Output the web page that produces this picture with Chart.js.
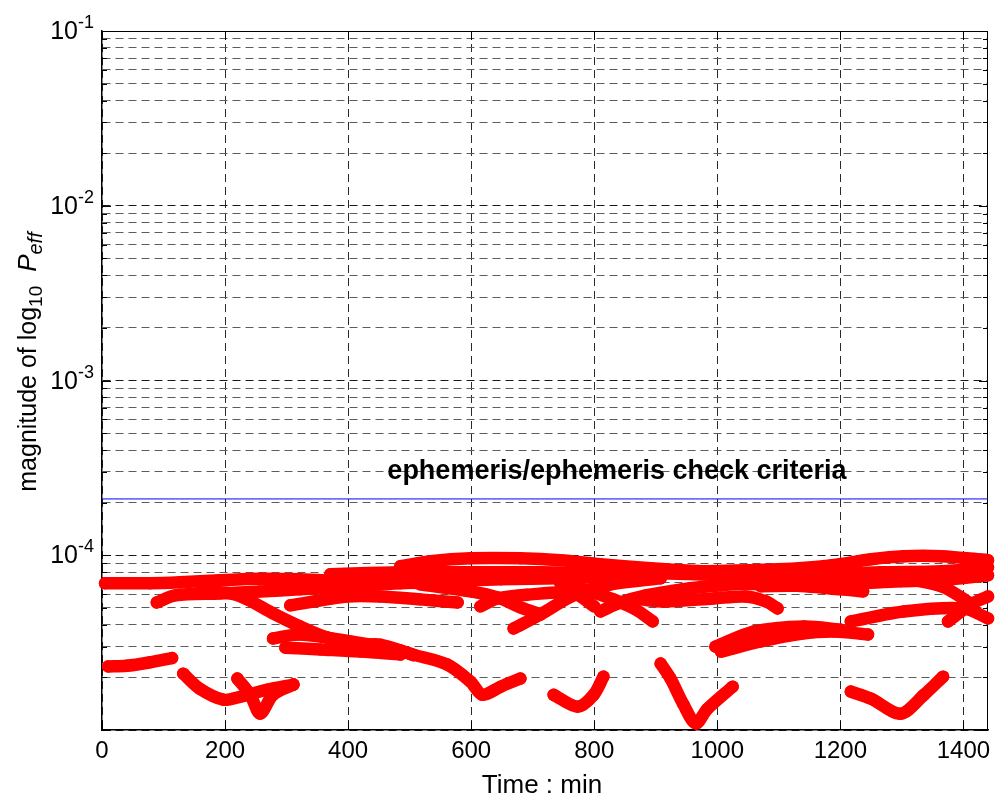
<!DOCTYPE html>
<html>
<head>
<meta charset="utf-8">
<script src="https://cdn.jsdelivr.net/npm/chart.js@4.4.1/dist/chart.umd.min.js"></script>
<style>
  html, body { margin: 0; padding: 0; background: #fff; }
  #wrap { width: 995px; height: 801px; }
</style>
</head>
<body>
<div id="wrap"><canvas id="chart" width="995" height="801"></canvas></div>
<script>
// ===============================
// DATA
// ===============================
// x ticks (minutes) and log-axis tick layout
const xTicks = [0, 200, 400, 600, 800, 1000, 1200, 1400];
const yDecadeExponents = [-5, -4, -3, -2, -1];
const yMantissas = [1, 2, 3, 4, 5, 6, 7, 8, 9];
const yLabelExponents = [-4, -3, -2, -1];

// check criterion (horizontal blue line)
const criteriaTime = [0, 1440];
const criteriaLevel = [2.1e-4, 2.1e-4];
const criteriaText = "ephemeris/ephemeris check criteria";
const criteriaTextAt = { t: 837, v: 2.73e-4 };

// satellite passes: [time (min), Peff in units of 1e-5]
const pass01 = [[5,6.91],[78,6.91],[127,7.00],[192,7.19],[257,7.33],[322,7.28],[404,7.09],[485,7.00],[550,6.82]];
const pass02 = [[89,5.37],[119,5.89],[192,6.05],[257,6.21],[322,6.38],[404,6.64],[485,6.91],[566,7.09],[648,7.28],[745,7.38],[810,7.48]];
const pass03 = [[159,6.21],[208,6.05],[236,5.59],[278,4.65],[322,3.91],[366,3.38],[420,3.08],[452,3.08],[506,2.70],[561,2.37],[599,1.89],[618,1.59],[648,1.77],[680,1.97]];
const pass04 = [[278,3.34],[322,3.52],[404,3.21],[485,2.85],[506,2.68]];
const pass05 = [[298,2.96],[355,2.89],[420,2.81],[485,2.70]];
const pass06 = [[10,2.31],[40,2.33],[78,2.44],[114,2.58]];
const pass07 = [[132,2.10],[159,1.72],[197,1.49],[225,1.55],[268,1.70],[311,1.82]];
const pass08 = [[220,1.97],[241,1.59],[257,1.24],[278,1.59],[311,1.82]];
const pass09 = [[734,1.59],[773,1.36],[799,1.59],[815,2.02]];
const pass10 = [[908,2.40],[924,1.97],[945,1.40],[965,1.09],[984,1.32],[1025,1.77]];
const pass11 = [[1217,1.66],[1250,1.51],[1298,1.24],[1336,1.59],[1367,2.02]];
const pass12 = [[997,3.00],[1059,3.66],[1141,3.91],[1201,3.75]];
const pass13 = [[1006,2.81],[1071,3.21],[1136,3.55],[1189,3.66],[1245,3.52]];
const pass14 = [[1217,4.18],[1303,4.77],[1401,4.96],[1440,4.35]];
const pass15 = [[1375,4.18],[1412,5.23],[1440,5.81]];
const pass16 = [[1266,7.78],[1364,6.64],[1412,5.30]];
const pass17 = [[306,5.17],[399,5.81],[452,5.81],[517,5.59],[578,5.37]];
const pass18 = [[615,5.10],[643,5.66],[691,5.95],[766,6.05],[800,5.10]];
const pass19 = [[745,6.91],[794,6.21],[831,5.59],[867,4.90],[895,4.18]];
const pass20 = [[810,4.77],[843,5.37],[884,5.89],[942,6.38],[1006,6.73],[1103,7.09],[1201,7.38]];
const pass21 = [[669,3.81],[713,4.59],[766,5.89],[827,6.82],[908,7.38]];
const pass22 = [[517,6.82],[599,6.21],[643,5.74],[680,5.03],[713,4.59]];
const pass23 = [[875,5.59],[913,5.44],[994,5.66],[1046,5.81],[1079,5.44],[1098,4.96]];
const pass24 = [[1006,6.91],[1119,6.73],[1201,6.38],[1237,6.21]];
const pass25 = [[485,8.65],[534,9.24],[599,9.61],[680,9.61],[745,9.37],[810,8.88],[892,8.42],[976,8.09]];
const pass26 = [[976,8.09],[1098,8.31],[1184,8.75],[1250,9.49],[1303,9.87],[1364,9.87],[1440,9.37]];
const pass27 = [[1006,7.28],[1136,7.68],[1266,7.99],[1364,8.09],[1440,8.53]];
const pass28 = [[1071,6.64],[1201,6.82],[1298,7.09],[1380,7.28],[1440,7.68]];
const pass29 = [[371,7.78],[485,7.99],[599,7.99],[713,7.99],[810,7.88],[908,7.88],[1006,7.68]];

const passes = [pass01, pass02, pass03, pass04, pass05, pass06, pass07, pass08, pass09, pass10,
                pass11, pass12, pass13, pass14, pass15, pass16, pass17, pass18, pass19, pass20,
                pass21, pass22, pass23, pass24, pass25, pass26, pass27, pass28, pass29];
const PASS_UNIT = 1e-5;

// ===============================
// HELPERS
// ===============================
const FONT = "'Liberation Sans', Arial, Helvetica, sans-serif";

function isDecade(v) {
  const l = Math.log10(v);
  return Math.abs(l - Math.round(l)) < 1e-9;
}

const yTickValues = [];
yDecadeExponents.forEach(e => {
  if (e === yDecadeExponents[yDecadeExponents.length - 1]) {
    yTickValues.push(Math.pow(10, e));
  } else {
    yMantissas.forEach(m => yTickValues.push(m * Math.pow(10, e)));
  }
});

// ===============================
// DATASETS
// ===============================
const passDatasets = passes.map(p => ({
  data: p.map(([t, v]) => ({ x: t, y: v * PASS_UNIT })),
  showLine: true,
  borderColor: "#ff0000",
  backgroundColor: "#ff0000",
  borderWidth: 12.5,
  borderCapStyle: "round",
  borderJoinStyle: "round",
  pointRadius: 6.2,
  pointBorderWidth: 0,
  tension: 0.3,
  clip: 8
}));

const criteriaDataset = {
  data: criteriaTime.map((t, i) => ({ x: t, y: criteriaLevel[i] })),
  showLine: true,
  borderColor: "#0000ff",
  borderWidth: 1,
  pointRadius: 0,
  tension: 0
};

// ===============================
// DECORATION PLUGIN (box, ticks, labels)
// ===============================
const axisDecor = {
  id: "axisDecor",
  beforeDatasetsDraw(chart) {
    const { ctx, chartArea: a, scales: { x, y } } = chart;
    ctx.save();
    ctx.strokeStyle = "#000";
    ctx.lineWidth = 1;
    ctx.beginPath();
    ctx.moveTo(a.left, a.top + 0.5); ctx.lineTo(a.right, a.top + 0.5);
    ctx.moveTo(a.right - 0.5, a.top); ctx.lineTo(a.right - 0.5, a.bottom);
    // x ticks (inside)
    xTicks.forEach(t => {
      const px = Math.round(x.getPixelForValue(t)) + 0.5;
      ctx.moveTo(px, a.bottom); ctx.lineTo(px, a.bottom - 9);
      ctx.moveTo(px, a.top); ctx.lineTo(px, a.top + 9);
    });
    // y ticks (inside)
    yTickValues.forEach(v => {
      const py = Math.round(y.getPixelForValue(v)) + 0.5;
      const len = isDecade(v) ? 9 : 5;
      ctx.moveTo(a.left, py); ctx.lineTo(a.left + len, py);
      ctx.moveTo(a.right, py); ctx.lineTo(a.right - len, py);
    });
    ctx.stroke();
    ctx.restore();
  },
  afterDraw(chart) {
    const { ctx, chartArea: a, scales: { x, y } } = chart;
    ctx.save();
    ctx.fillStyle = "#000";

    // x tick labels
    ctx.font = `24px ${FONT}`;
    ctx.textAlign = "center";
    ctx.textBaseline = "alphabetic";
    xTicks.forEach(t => ctx.fillText(String(t), x.getPixelForValue(t), a.bottom + 28));

    // y tick labels 10^n
    yLabelExponents.forEach(e => {
      const py = y.getPixelForValue(Math.pow(10, e));
      const sup = String(e);
      ctx.font = `18px ${FONT}`;
      const supW = ctx.measureText(sup).width;
      ctx.font = `25px ${FONT}`;
      const baseW = ctx.measureText("10").width;
      const xEnd = a.left - 8;
      ctx.textAlign = "left";
      ctx.fillText("10", xEnd - supW - baseW, py + 8);
      ctx.font = `18px ${FONT}`;
      ctx.fillText(sup, xEnd - supW, py - 3);
    });

    // x axis title
    ctx.font = `26px ${FONT}`;
    ctx.textAlign = "center";
    ctx.fillText("Time : min", (a.left + a.right) / 2 - 3, a.bottom + 63);

    // y axis title with sub/italics
    const parts = [
      { t: "magnitude of log", f: `25px ${FONT}`, dy: 0 },
      { t: "10", f: `19px ${FONT}`, dy: 6 },
      { t: "  ", f: `25px ${FONT}`, dy: 0 },
      { t: "P", f: `italic 26px ${FONT}`, dy: 0 },
      { t: "eff", f: `italic 20px ${FONT}`, dy: 6 }
    ];
    let total = 0;
    parts.forEach(p => { ctx.font = p.f; p.w = ctx.measureText(p.t).width; total += p.w; });
    ctx.translate(36, 362);
    ctx.rotate(-Math.PI / 2);
    ctx.textAlign = "left";
    let cx = -total / 2;
    parts.forEach(p => { ctx.font = p.f; ctx.fillText(p.t, cx, p.dy); cx += p.w; });
    ctx.setTransform(1, 0, 0, 1, 0, 0);

    // criteria annotation
    ctx.font = `bold 27px ${FONT}`;
    ctx.textAlign = "center";
    ctx.fillText(criteriaText, x.getPixelForValue(criteriaTextAt.t), y.getPixelForValue(criteriaTextAt.v));
    ctx.restore();
  }
};

// ===============================
// CHART
// ===============================
new Chart(document.getElementById("chart"), {
  type: "scatter",
  data: { datasets: [...passDatasets, criteriaDataset] },
  options: {
    responsive: false,
    animation: false,
    events: [],
    layout: { padding: { left: 102, right: 7, top: 31, bottom: 71 } },
    plugins: { legend: { display: false }, tooltip: { enabled: false } },
    scales: {
      x: {
        type: "linear",
        min: 0,
        max: 1440,
        afterBuildTicks: s => { s.ticks = xTicks.map(v => ({ value: v })); },
        ticks: { display: false },
        grid: { color: "#2a2a2a", lineWidth: 1, drawTicks: false },
        border: { display: true, color: "#000", width: 1.5, dash: [8, 5] }
      },
      y: {
        type: "logarithmic",
        min: 1e-5,
        max: 1e-1,
        afterBuildTicks: s => { s.ticks = yTickValues.map(v => ({ value: v, major: isDecade(v) })); },
        ticks: { display: false },
        grid: {
          color: c => (c.tick && isDecade(c.tick.value) ? "#1a1a1a" : "#5c5c5c"),
          lineWidth: 1,
          drawTicks: false
        },
        border: { display: true, color: "#000", width: 1.5, dash: [8, 5] }
      }
    }
  },
  plugins: [axisDecor]
});
</script>
</body>
</html>
